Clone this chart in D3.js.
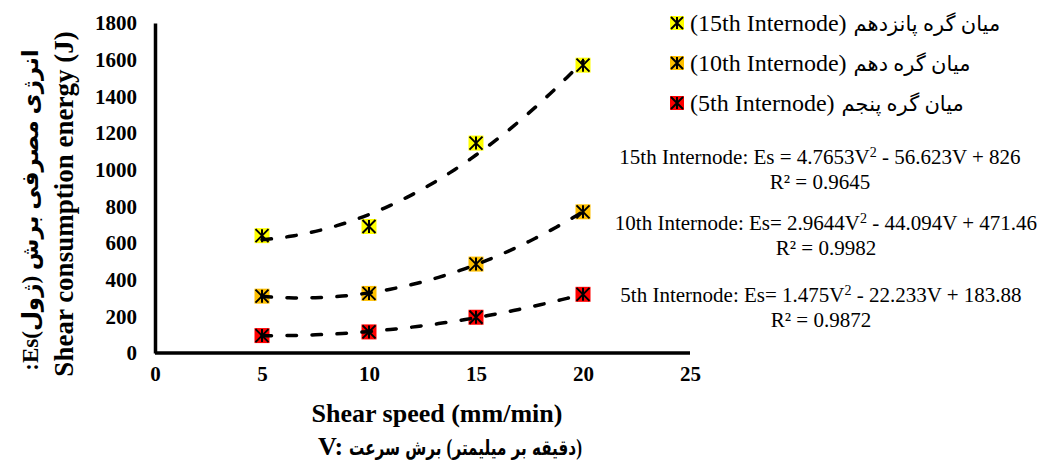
<!DOCTYPE html>
<html lang="en">
<head>
<meta charset="utf-8">
<title>Shear consumption energy vs shear speed</title>
<style>
body { margin: 0; background: #fff; }
svg { display: block; }
.axis text { font-family: 'Liberation Serif', serif; font-weight: bold; font-size: 21px; fill: #000; }
.axis path { stroke: #000; stroke-width: 3.5; }
.title { font-family: 'Liberation Serif', 'DejaVu Sans', serif; font-weight: bold; fill: #000; }
.legend text, .eq text { font-family: 'Liberation Serif', 'DejaVu Sans', serif; fill: #000; }
</style>
</head>
<body>
<svg width="1048" height="464"></svg>

<script src="https://cdn.jsdelivr.net/npm/d3@7"></script>
<script>

// shear speed (mm/min)
const speeds = [5, 10, 15, 20];
// energy (J) per internode
const es15 = [640, 690, 1145, 1570];
const es10 = [310, 325, 485, 770];
const es5 = [95, 115, 195, 320];

const seriesNames = ['15th Internode', '10th Internode', '5th Internode'];
const seriesFa = ['میان گره پانزدهم', 'میان گره دهم', 'میان گره پنجم'];
const seriesColors = ['#ffff00', '#ffc000', '#ff0000'];

const xTicks = [0, 5, 10, 15, 20, 25];
const yTicks = [0, 200, 400, 600, 800, 1000, 1200, 1400, 1600, 1800];

// equation labels as printed on the chart
const eqCoefs = [['4.7653', '56.623', '826'], ['2.9644', '44.094', '471.46'], ['1.475', '22.233', '183.88']];
const eqPrefix = ['15th Internode: Es = ', '10th Internode: Es= ', '5th Internode: Es= '];
const eqR2 = ['0.9645', '0.9982', '0.9872'];

// x title persian words, in the order they show on screen (left to right)
const xTitleFa = ['سرعت', ' ', 'برش', ' ', '(', 'میلیمتر', ' ', 'بر', ' ', 'دقیقه', ')'];

const allSeries = [es15, es10, es5];

var svg = d3.select('svg');

let x = d3.scaleLinear().domain([0, 25]).range([155, 690]);
let y = d3.scaleLinear().domain([0, 1800]).range([353, 23]);

// least squares quadratic, like the excel trendline
function quadFit(xs, ys) {
  let s = [0, 0, 0, 0, 0], t = [0, 0, 0];
  xs.forEach((xv, i) => {
    for (let k = 0; k < 5; k++) s[k] += Math.pow(xv, k);
    for (let k = 0; k < 3; k++) t[k] += Math.pow(xv, k) * ys[i];
  });
  let m = [[s[0], s[1], s[2], t[0]], [s[1], s[2], s[3], t[1]], [s[2], s[3], s[4], t[2]]];
  for (let i = 0; i < 3; i++) {
    for (let j = i + 1; j < 3; j++) {
      let f = m[j][i] / m[i][i];
      for (let k = i; k < 4; k++) m[j][k] -= f * m[i][k];
    }
  }
  let c = [0, 0, 0];
  for (let i = 2; i >= 0; i--) {
    let v = m[i][3];
    for (let k = i + 1; k < 3; k++) v -= m[i][k] * c[k];
    c[i] = v / m[i][i];
  }
  return v => c[0] + c[1] * v + c[2] * v * v;
}

// axes
let xAxis = svg.append('g')
  .attr('class', 'axis')
  .attr('transform', 'translate(0,' + y(0) + ')')
  .call(d3.axisBottom(x).tickValues(xTicks).tickSize(0).tickPadding(13));
xAxis.selectAll('path').attr('d', 'M' + x(0) + ',0H' + x(25));

let yAxis = svg.append('g')
  .attr('class', 'axis')
  .attr('transform', 'translate(' + x(0) + ',0)')
  .call(d3.axisLeft(y).tickValues(yTicks).tickFormat(d3.format('d')).tickSize(0).tickPadding(18));

// markers
function marker(sel, size, color) {
  let h = size / 2;
  sel.append('rect')
    .attr('x', -h).attr('y', -h)
    .attr('width', size).attr('height', size)
    .attr('fill', color);
  let a = h - 1;
  sel.append('path')
    .attr('d', 'M0,' + (-a) + 'V' + a + 'M' + (-a) + ',' + (-a) + 'L' + a + ',' + a + 'M' + a + ',' + (-a) + 'L' + (-a) + ',' + a)
    .attr('stroke', '#000')
    .attr('stroke-width', 2)
    .attr('fill', 'none');
}

allSeries.forEach((vals, si) => {
  svg.append('g')
    .selectAll('g')
    .data(vals)
    .enter().append('g')
      .attr('transform', (d, i) => 'translate(' + x(speeds[i]) + ',' + y(d) + ')')
      .each(function() { marker(d3.select(this), 15, seriesColors[si]); });
});

// dashed trendlines
let line = d3.line().x(d => x(d[0])).y(d => y(d[1]));
allSeries.forEach(vals => {
  let f = quadFit(speeds, vals);
  let pts = d3.range(5, 20.01, 0.25).map(v => [v, f(v)]);
  svg.append('path')
    .datum(pts)
    .attr('d', line)
    .attr('fill', 'none')
    .attr('stroke', '#000')
    .attr('stroke-width', 3.5)
    .attr('stroke-linecap', 'round')
    .attr('stroke-dasharray', '9.5,15.5');
});

// legend
let legend = svg.append('g').attr('class', 'legend')
  .selectAll('g')
  .data(seriesNames)
  .enter().append('g')
    .attr('transform', (d, i) => 'translate(677,' + (23 + i * 40) + ')');

legend.each(function(d, i) { marker(d3.select(this), 14, seriesColors[i]); });

legend.append('text')
  .attr('class', 'en')
  .attr('x', 13)
  .attr('y', 8)
  .attr('font-size', 24)
  .text(d => '(' + d + ')');

legend.each(function(d, i) {
  let g = d3.select(this);
  let w = g.select('text.en').node().getComputedTextLength();
  g.append('text')
    .attr('x', 13 + w + 7)
    .attr('y', 8)
    .attr('font-size', 21)
    .text(seriesFa[i]);
});

// equations
let eq = svg.append('g').attr('class', 'eq');
const eqY = [157, 223, 295];
const eqCx = [820, 826, 821];
eqPrefix.forEach((p, i) => {
  let t = eq.append('text')
    .attr('x', eqCx[i])
    .attr('y', eqY[i] + 7)
    .attr('text-anchor', 'middle')
    .attr('font-size', 21);
  t.append('tspan').text(p + eqCoefs[i][0] + 'V');
  t.append('tspan').attr('font-size', 14).attr('dy', -7).text('2');
  t.append('tspan').attr('dy', 7).text(' - ' + eqCoefs[i][1] + 'V + ' + eqCoefs[i][2]);
  eq.append('text')
    .attr('x', eqCx[i])
    .attr('y', eqY[i] + 32)
    .attr('text-anchor', 'middle')
    .attr('font-size', 21)
    .text('R² = ' + eqR2[i]);
});

// axis titles
svg.append('text')
  .attr('class', 'title')
  .attr('x', 437)
  .attr('y', 422)
  .attr('text-anchor', 'middle')
  .attr('font-size', 26)
  .text('Shear speed (mm/min)');

// "V:" then the persian words, one text per word so the visual order stays put
let vLab = svg.append('text')
  .attr('class', 'title')
  .attr('x', 318)
  .attr('y', 455)
  .attr('font-size', 26)
  .text('V:');
let faStart = 318 + vLab.node().getComputedTextLength() + 6;
let faEnd = 582;

let xFa = svg.append('g').attr('class', 'title');
let cur = 0;
xTitleFa.forEach(w => {
  let t = xFa.append('text')
    .attr('x', cur)
    .attr('y', 0)
    .attr('font-size', w === '(' || w === ')' ? 24 : 21)
    .text(w);
  cur += w === ' ' ? 7 : t.node().getComputedTextLength();
});
xFa.attr('transform', 'translate(' + faStart + ',455) scale(' + ((faEnd - faStart) / cur) + ',1)');

svg.append('text')
  .attr('class', 'title')
  .attr('transform', 'translate(73,204) rotate(-90)')
  .attr('text-anchor', 'middle')
  .attr('font-size', 27)
  .text('Shear consumption energy (J)');

svg.append('text')
  .attr('class', 'title')
  .attr('transform', 'translate(38,210) rotate(-90)')
  .attr('text-anchor', 'middle')
  .attr('font-size', 23)
  .text(':Es(ژول)\u200E برش\u200E مصرفی\u200E انرژی');

</script>
</body>
</html>
